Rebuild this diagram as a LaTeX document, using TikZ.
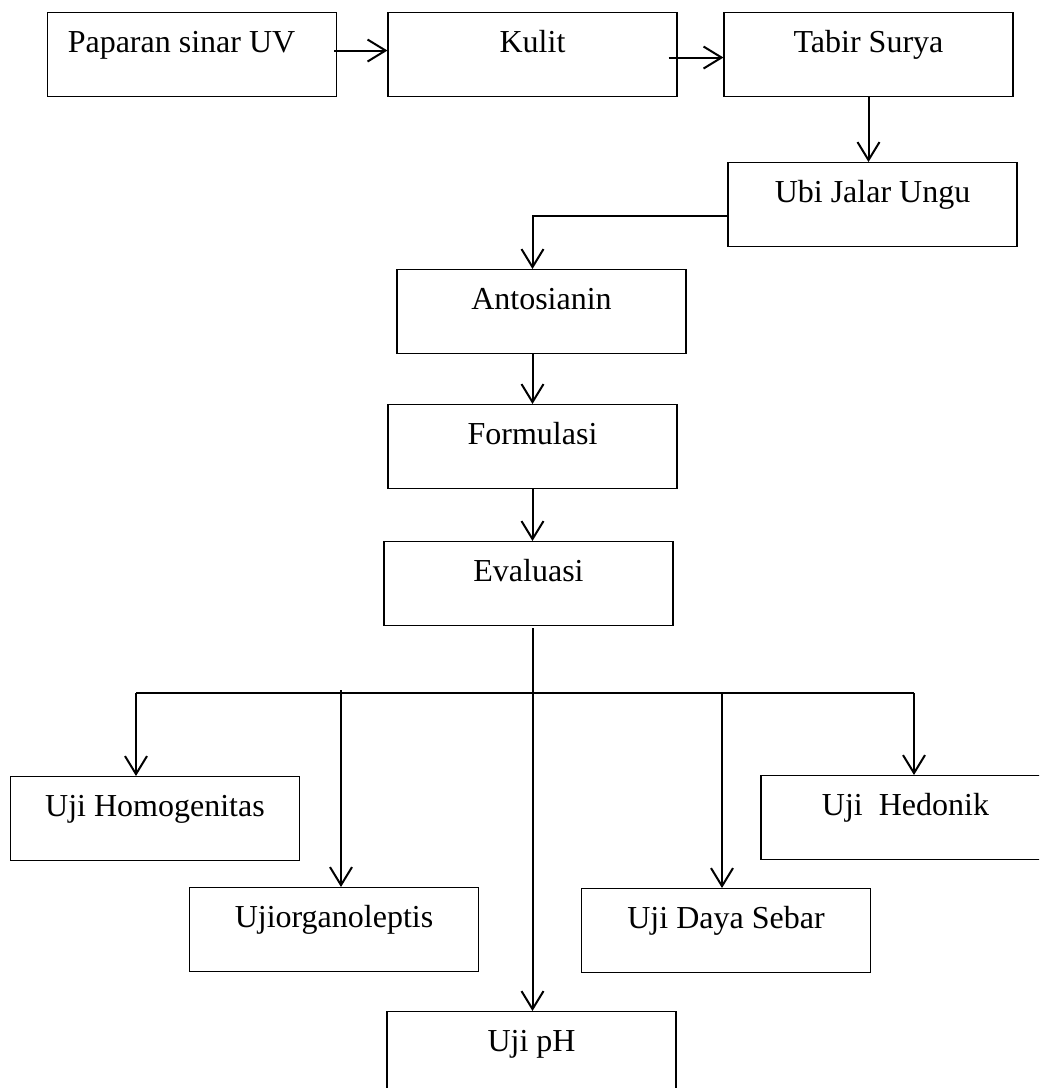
\documentclass[tikz,border=0pt]{standalone}
\usepackage{fontspec}
\setmainfont{Liberation Serif}
\usetikzlibrary{arrows.meta}
\tikzset{
  box/.style={draw=black, line width=0.8pt, rectangle, anchor=north, inner sep=0pt,
    minimum width=216.75pt, minimum height=63pt, text height=30pt, text depth=33pt,
    font=\fontsize{24}{28}\selectfont},
  conn/.style={line width=1.5pt, black},
  arr/.style={conn, -{Straight Barb[length=13.5pt,width=16.5pt]}}
}
\begin{document}
\begin{tikzpicture}[x=0.75pt,y=-0.75pt]
\useasboundingbox (0,0) rectangle (1039,1088);
\clip (0,0) rectangle (1039,1088);
% boxes
\node[box] (pap) at (192,12) {Paparan sinar UV\hspace*{15.75pt}};
\node[box] (kul) at (532.5,12) {Kulit};
\node[box] (tab) at (868.5,12) {Tabir Surya};
\node[box] (ubi) at (872.5,162) {Ubi Jalar Ungu};
\node[box] (ant) at (541.5,269) {Antosianin};
\node[box] (for) at (532.5,404) {Formulasi};
\node[box] (eva) at (528.5,541) {Evaluasi};
\node[box] (hom) at (155,776) {Uji Homogenitas};
\node[box] (org) at (334,887) {Ujiorganoleptis};
\node[box] (ph)  at (531.5,1011) {Uji pH};
\node[box] (day) at (726,888) {Uji Daya Sebar};
\node[box] (hed) at (905.5,775) {Uji\ \ Hedonik};
% top row connectors
\draw[arr] ([xshift=-2.25pt,yshift=3pt]pap.east) -- ([yshift=3pt]kul.west);
\draw[arr] ([xshift=-6.75pt,yshift=-2.25pt]kul.east) -- ([yshift=-2.25pt]tab.west);
\draw[arr] (tab.south) -- (tab.south |- ubi.north);
\draw[arr] ([yshift=-8.25pt]ubi.west) -| ([xshift=-6.75pt]ant.north);
\draw[arr] ([xshift=-6.75pt]ant.south) -- (for.north);
\draw[arr] (for.south) -- (for.south |- eva.north);
% evaluation spine and bus
\coordinate (spine) at (532.5,628);
\coordinate (busL) at (136,693);
\coordinate (busR) at (914,693);
\coordinate (bo) at (341,690);
\coordinate (bd) at (722,693);
\draw[arr] (spine) -- (spine |- ph.north);
\draw[conn] (busL) -- (busR);
\draw[arr] (busL) -- (busL |- hom.north);
\draw[arr] (bo) -- (bo |- org.north);
\draw[arr] (bd) -- (bd |- day.north);
\draw[arr] (busR) -- (busR |- hed.north);
\end{tikzpicture}
\end{document}
